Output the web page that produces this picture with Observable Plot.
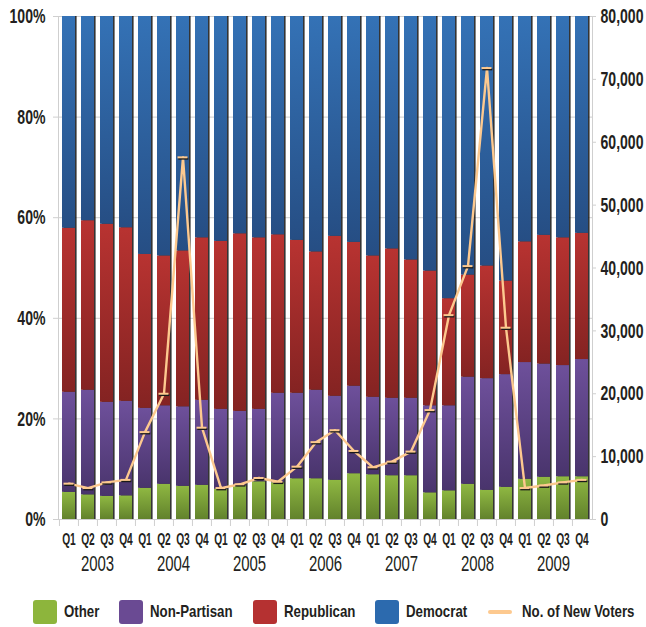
<!DOCTYPE html>
<html><head><meta charset="utf-8">
<script src="https://cdn.jsdelivr.net/npm/d3@7"></script>
<script src="https://cdn.jsdelivr.net/npm/@observablehq/plot@0.6"></script>
<style>
body{margin:0;background:#fff;font-family:"Liberation Sans",Arial,sans-serif;}
#legend{display:flex;align-items:center;height:30px;padding-top:17px;padding-left:33px;font-weight:bold;font-size:17px;color:#231f20;white-space:nowrap;}
.item{display:flex;align-items:center;margin-right:20px}
.item span{display:inline-block;transform:scaleX(0.78);transform-origin:left center}
.sw{width:24px;height:24px;border-radius:3px;margin-right:7px}
.ln{width:24px;height:4px;border-radius:2px;margin-right:10px}
</style></head><body>
<svg width="0" height="0" style="position:absolute">
<defs>
<linearGradient id="gOther" x1="0" y1="0" x2="0" y2="1"><stop offset="0" stop-color="#8fb842"/><stop offset="1" stop-color="#62822c"/></linearGradient>
<linearGradient id="gNon" x1="0" y1="0" x2="0" y2="1"><stop offset="0" stop-color="#6e509b"/><stop offset="1" stop-color="#49346c"/></linearGradient>
<linearGradient id="gRep" x1="0" y1="0" x2="0" y2="1"><stop offset="0" stop-color="#b83331"/><stop offset="1" stop-color="#842322"/></linearGradient>
<linearGradient id="gDem" x1="0" y1="0" x2="0" y2="1"><stop offset="0" stop-color="#3472b6"/><stop offset="1" stop-color="#264e84"/></linearGradient>
</defs></svg>
<div id="chart"></div><div id="legend"></div>
<script>
const years = [2003, 2004, 2005, 2006, 2007, 2008, 2009];
const quarters = ["Q1", "Q2", "Q3", "Q4"];
const series = ["Other", "Non-Partisan", "Republican", "Democrat"];
const seriesColors = ["#8db53c", "#6a4a93", "#b53131", "#2c6aae"];
const seriesFills = ["url(#gOther)", "url(#gNon)", "url(#gRep)", "url(#gDem)"];
const lineName = "No. of New Voters";
const lineColor = "#fdc98f";

// shares in percent, 2003 Q1 ... 2009 Q4
const other = [5.4,4.9,4.6,4.7, 6.2,7.0,6.6,6.8, 6.0,6.7,7.5,7.3, 8.1,8.1,7.8,9.1, 8.9,8.7,8.7,5.3, 5.7,7.0,5.8,6.4, 8.0,8.4,8.5,8.5];
const nonPartisan = [19.9,20.8,18.7,18.8, 15.9,15.6,15.8,16.9, 15.9,14.8,14.4,17.8, 17.0,17.6,16.7,17.4, 15.4,15.4,15.4,17.3, 16.9,21.3,22.2,22.4, 23.2,22.5,22.1,23.3];
const republican = [32.6,33.7,35.4,34.5, 30.6,29.8,31.0,32.3, 33.4,35.3,34.1,31.5, 30.4,27.5,31.8,28.6, 28.1,29.7,27.5,26.8, 21.3,20.3,22.4,18.6, 24.0,25.6,25.4,25.1];
const democrat = [42.1,40.6,41.3,42.0, 47.3,47.6,46.6,44.0, 44.7,43.2,44.0,43.4, 44.5,46.8,43.7,44.9, 47.6,46.2,48.4,50.6, 56.1,51.4,49.6,52.6, 44.8,43.5,44.0,43.1];
const newVoters = [5700,5000,5900,6300, 13900,20000,57600,14600, 5000,5600,6600,6000, 8400,12300,14200,10900, 8300,9200,10800,17400, 32500,40300,71800,30500, 5000,5400,5900,6300];

const leftTicks = [0, 20, 40, 60, 80, 100];
const rightTicks = [0, 10000, 20000, 30000, 40000, 50000, 60000, 70000, 80000];
const rightMax = 80000;

const keys = years.flatMap(y => quarters.map(q => `${y} ${q}`));
const shareArrays = [other, nonPartisan, republican, democrat];
const stacked = keys.flatMap((k, i) => series.map((s, j) => ({key: k, series: s, value: shareArrays[j][i]})));
const voters = keys.map((k, i) => ({key: k, v: newVoters[i]}));
const yearKeys = years.map(y => `${y} Q2`);

const W = 646, H = 580, mL = 58, mR = 54, mT = 16, mB = 61;
const pIn = 0.32, pOut = 0.15;
const step = (W - mL - mR) / (keys.length - pIn + 2 * pOut);
const toLeft = v => v / rightMax * 100;
const ink = "#231f20", gridC = "#cfcfcf";
const font = '"Liberation Sans",Arial,sans-serif';

const chart = Plot.plot({
  width: W, height: H,
  marginLeft: mL, marginRight: mR, marginTop: mT, marginBottom: mB,
  style: {fontFamily: font, background: "#fff", color: ink},
  x: {domain: keys, paddingInner: pIn, paddingOuter: pOut, axis: null},
  y: {domain: [0, 100], axis: null},
  color: {domain: series, range: seriesFills},
  marks: [
    Plot.gridY(leftTicks, {stroke: gridC, strokeOpacity: 1}),
    Plot.frame({stroke: gridC}),
    Plot.barY(keys, {x: d => d, y1: 0, y2: 100, fill: "#111", fillOpacity: 0.85, dx: 1.6}),
    Plot.barY(stacked, Plot.stackY({x: "key", y: "value", fill: "series", order: series})),
    Plot.lineY(voters, {x: "key", y: d => toLeft(d.v), stroke: lineColor, strokeWidth: 2.4}),
    Plot.tickY(voters, {x: "key", y: d => toLeft(d.v), stroke: "#1a1a1a", strokeWidth: 2, insetLeft: 1.5, insetRight: 1.5, dx: 0.8, dy: 1.3}),
    Plot.tickY(voters, {x: "key", y: d => toLeft(d.v), stroke: lineColor, strokeWidth: 2, insetLeft: 1.5, insetRight: 1.5}),
    Plot.axisY(leftTicks, {anchor: "left", tickSize: 5, tickPadding: 8, stroke: gridC, fill: ink, tickFormat: d => d + "%", fontSize: 21, fontWeight: "bold", label: null}),
    Plot.axisY(rightTicks, {anchor: "right", y: toLeft, tickSize: 3, tickPadding: 5, stroke: gridC, fill: ink, tickFormat: d3.format(","), fontSize: 21, fontWeight: "bold", label: null}),
    Plot.axisX(keys, {tickSize: 7, tickFormat: () => "", dx: -step / 2, stroke: gridC, label: null}),
    Plot.axisX(keys, {tickSize: 0, tickPadding: 13, tickFormat: k => k.split(" ")[1], fontSize: 17, fontWeight: "bold", fill: ink, label: null}),
    Plot.axisX(yearKeys, {tickSize: 0, tickPadding: 36, tickFormat: k => k.split(" ")[0], dx: step / 2, fontSize: 22, fontWeight: 500, fill: ink, stroke: ink, strokeWidth: 0.3, label: null})
  ]
});
document.getElementById("chart").appendChild(chart);

// condense the text horizontally (the reference uses a condensed face)
const squeeze = {21: 0.67, 17: 0.6, 22: 0.68};
chart.querySelectorAll("g[font-size]").forEach(g => {
  const s = squeeze[+g.getAttribute("font-size")] || 0.67;
  g.querySelectorAll("text").forEach(t => {
    let tr = t.getAttribute("transform");
    if (!tr) {
      const x = +(t.getAttribute("x") || 0), y = +(t.getAttribute("y") || 0);
      t.removeAttribute("x"); t.removeAttribute("y");
      tr = `translate(${x},${y})`;
    }
    t.setAttribute("transform", `${tr} scale(${s},1)`);
  });
});

const legend = document.getElementById("legend");
series.forEach((s, i) => {
  const it = document.createElement("div"); it.className = "item";
  it.innerHTML = `<div class="sw" style="background:${seriesColors[i]}"></div><span>${s}</span>`;
  legend.appendChild(it);
});
const li = document.createElement("div"); li.className = "item";
li.innerHTML = `<div class="ln" style="background:${lineColor}"></div><span>${lineName}</span>`;
legend.appendChild(li);
legend.querySelectorAll("span").forEach(sp => { sp.style.marginRight = (-0.22 * sp.offsetWidth) + "px"; });
</script>
</body></html>
